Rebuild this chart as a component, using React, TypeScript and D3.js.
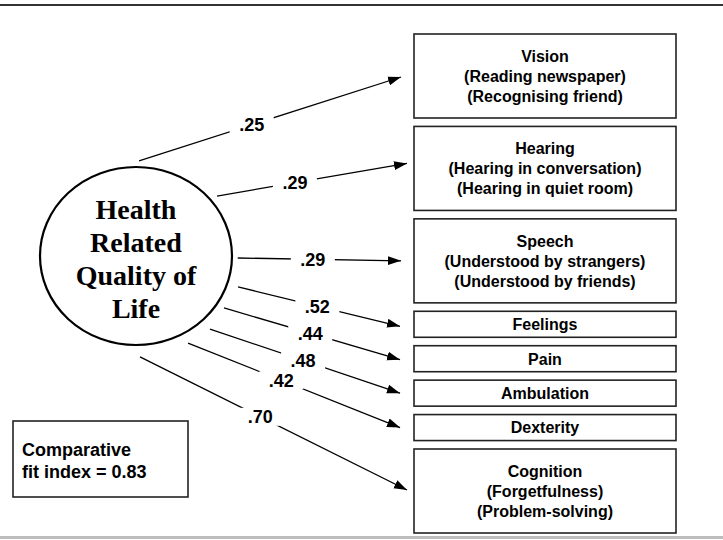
import React from "react";
import * as d3 from "d3";

// ---- data ----
const outcomes = ["Vision", "Hearing", "Speech", "Feelings", "Pain", "Ambulation", "Dexterity", "Cognition"];
const indicators: string[][] = [
  ["(Reading newspaper)", "(Recognising friend)"],
  ["(Hearing in conversation)", "(Hearing in quiet room)"],
  ["(Understood by strangers)", "(Understood by friends)"],
  [],
  [],
  [],
  [],
  ["(Forgetfulness)", "(Problem-solving)"],
];
const loadings = [0.25, 0.29, 0.29, 0.52, 0.44, 0.48, 0.42, 0.7];
const latentLabel = ["Health", "Related", "Quality of", "Life"];
const fitLabel = ["Comparative", "fit index = 0.83"];

// ---- layout (positions / styles) ----
const W = 723;
const H = 540;
const boxLeft = 414;
const boxRight = 676;
const boxTop = 34;
const boxBottom = 533;
const smallBoxH = 26;
const bigBoxH = 84;
const ellipse = { cx: 136, cy: 256, rx: 96, ry: 89 };
const startAngles = [-88.3, -38.6, 1.2, 18.1, 32.5, 46.8, 61, 87.9];
const startScale = [1.07, 1.08, 1.06, 1.118, 1.087, 1.126, 1.118, 1.135];
const labelT = [0.43, 0.41, 0.46, 0.49, 0.49, 0.49, 0.44, 0.45];
const tipDx = [-13, -7, -13, -14, -14, -14, -14, -7];
const tipDy = [1, -5, 0, 2, 1, 0, 0, -1];
const sans = "'Liberation Sans', Arial, sans-serif";
const serif = "'Liberation Serif', 'Times New Roman', serif";
const fmt = (v: number) => d3.format(".2f")(v).replace(/^0/, "");

export default function App() {
  // stack the boxes vertically with a linear scale over cumulative units
  const heights = outcomes.map((_, i) => (indicators[i].length ? bigBoxH : smallBoxH));
  const totalH = d3.sum(heights);
  const gap = (boxBottom - boxTop - totalH) / (outcomes.length - 1);
  const cum = d3.cumsum(heights.map((h, i) => h + (i ? gap : 0)));
  const yScale = d3.scaleLinear().domain([0, cum[cum.length - 1]]).range([boxTop, boxBottom]);
  const boxes = outcomes.map((name, i) => {
    const y1 = yScale(cum[i]);
    const y0 = y1 - heights[i];
    return { name, sub: indicators[i], y0, y1, cy: (y0 + y1) / 2, value: loadings[i] };
  });

  const line = d3.line();

  return (
    <svg width={W} height={H} style={{ position: "absolute", left: 0, top: 0, background: "#fff" }}>
      <defs>
        <marker id="arr" markerUnits="userSpaceOnUse" markerWidth={13} markerHeight={10} refX={13} refY={5} orient="auto">
          <path d="M0,0.5 L13,5 L0,9.5 Z" fill="#000" />
        </marker>
      </defs>
      <rect x={0} y={0} width={W} height={H} fill="#fff" />
      <line x1={0} x2={W} y1={5} y2={5} stroke="#333" strokeWidth={2} />
      <line x1={0} x2={W} y1={537.5} y2={537.5} stroke="#bdbdbd" strokeWidth={3} />

      {/* latent variable */}
      <ellipse cx={ellipse.cx} cy={ellipse.cy} rx={ellipse.rx} ry={ellipse.ry} fill="#fff" stroke="#000" strokeWidth={2.2} />
      {latentLabel.map((t, i) => (
        <text
          key={t}
          x={ellipse.cx}
          y={259 + (i - 1.5) * 33 + 9.5}
          textAnchor="middle"
          fontFamily={serif}
          fontWeight="bold"
          fontSize={28}
          fill="#000"
        >
          {t}
        </text>
      ))}

      {/* paths */}
      {boxes.map((b, i) => {
        const a = (startAngles[i] * Math.PI) / 180;
        const sx = ellipse.cx + Math.cos(a) * ellipse.rx * startScale[i];
        const sy = ellipse.cy + Math.sin(a) * ellipse.ry * startScale[i];
        const ex = boxLeft + tipDx[i];
        const ey = b.cy + tipDy[i];
        const lx = sx + (ex - sx) * labelT[i];
        const ly = sy + (ey - sy) * labelT[i];
        return (
          <g key={b.name + "p"}>
            <path d={line([[sx, sy], [ex, ey]]) || ""} stroke="#000" strokeWidth={1.3} fill="none" markerEnd="url(#arr)" />
            <rect x={lx - 22} y={ly - 9} width={44} height={18} fill="#fff" />
            <text x={lx} y={ly + 6.5} textAnchor="middle" fontFamily={sans} fontWeight="bold" fontSize={18} fill="#000">
              {fmt(b.value)}
            </text>
          </g>
        );
      })}

      {/* observed variables */}
      {boxes.map((b) => {
        const lines = [b.name, ...b.sub];
        return (
          <g key={b.name}>
            <rect x={boxLeft} y={b.y0} width={boxRight - boxLeft} height={b.y1 - b.y0} fill="#fff" stroke="#222" strokeWidth={1.6} />
            {lines.map((t, j) => (
              <text
                key={t}
                x={(boxLeft + boxRight) / 2}
                y={b.cy + (j - (lines.length - 1) / 2) * 20 + 5.8}
                textAnchor="middle"
                fontFamily={sans}
                fontWeight="bold"
                fontSize={16}
                fill="#000"
              >
                {t}
              </text>
            ))}
          </g>
        );
      })}

      {/* fit index */}
      <rect x={13} y={421} width={175} height={76} fill="#fff" stroke="#222" strokeWidth={1.6} />
      {fitLabel.map((t, i) => (
        <text key={t} x={22} y={449 + i * 22 + 6.5} fontFamily={sans} fontWeight="bold" fontSize={18} fill="#000">
          {t}
        </text>
      ))}
    </svg>
  );
}
